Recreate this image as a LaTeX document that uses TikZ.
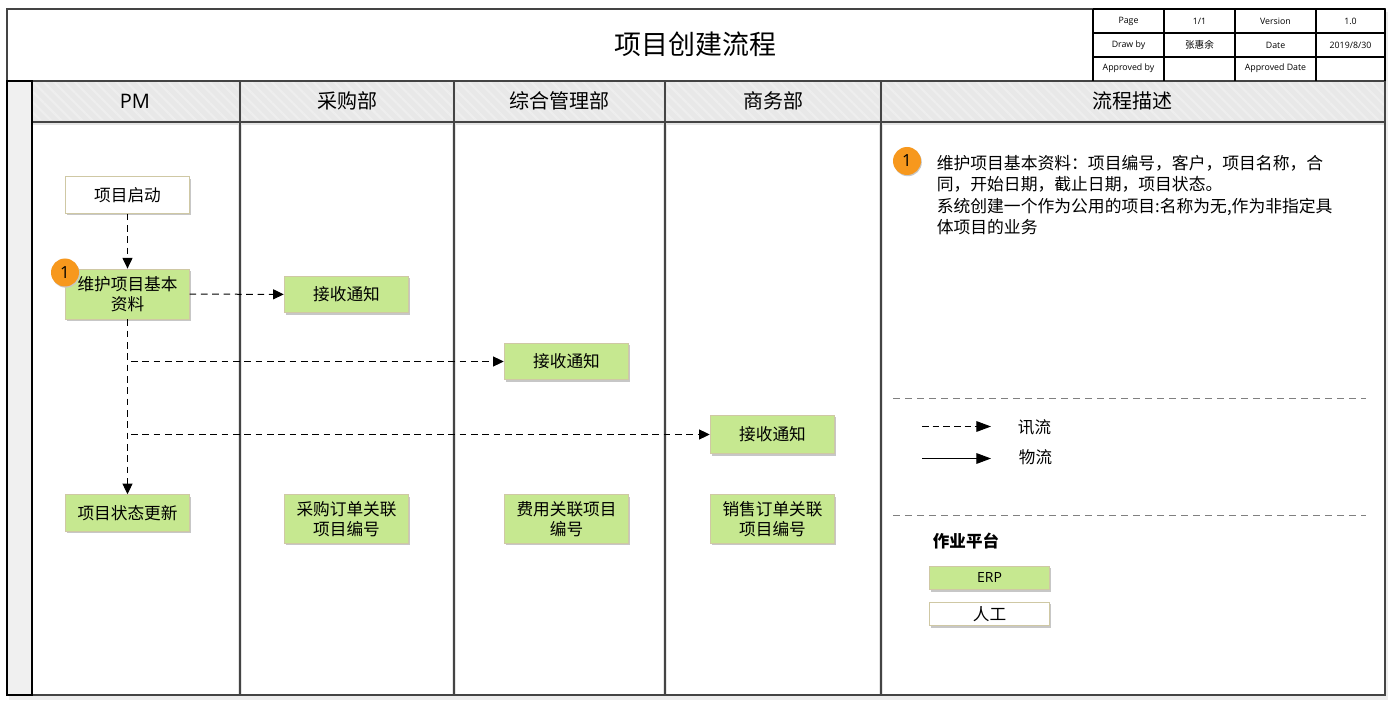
\documentclass[tikz,border=0pt]{standalone}
\usepackage{xcolor}
\usepackage{fontspec}
\setmainfont{Noto Sans CJK SC}
\newfontfamily\latinfont{Open Sans}
\usetikzlibrary{positioning, arrows.meta, shadows, patterns.meta}
\definecolor{erpgreen}{HTML}{C6E890}
\definecolor{boxedge}{HTML}{CFC8A4}
\definecolor{headgray}{HTML}{E8E8E8}
\definecolor{headstripe}{HTML}{EEEEEE}
\definecolor{bandgray}{HTML}{F0F0F0}
\definecolor{framegray}{HTML}{444444}
\definecolor{badgeorange}{HTML}{F7981D}
\tikzset{
  framelines/.style={draw=framegray, line width=1.4pt},
  framehalo/.style={draw=black!10, line width=3.6pt},
  thinlines/.style={draw=black, line width=1pt},
  flowbox/.style={draw=boxedge, line width=0.6pt, align=center, inner sep=0pt,
    font=\fontsize{12.5pt}{15.2pt}\selectfont,
    general shadow={fill=black!22, shadow xshift=1pt, shadow yshift=-1.5pt}},
  erpbox/.style={flowbox, fill=erpgreen},
  manualbox/.style={flowbox, fill=white},
  badge/.style={circle, fill=badgeorange, minimum size=21pt, inner sep=0pt,
    font=\latinfont\fontsize{12.5pt}{14pt}\selectfont,
    general shadow={fill=black!22, shadow xshift=0.6pt, shadow yshift=-0.9pt}},
  lanetitle/.style={font=\fontsize{15pt}{18pt}\selectfont},
  cell/.style={font=\latinfont\fontsize{6.6pt}{8pt}\selectfont},
  info/.style={dashed, dash pattern=on 5pt off 3.5pt, line width=0.75pt, -{Triangle[length=8pt,width=7.5pt]}},
  legendhead/.style={line width=0.75pt, -{Triangle[length=11pt,width=8pt]}}
}
\begin{document}
\begin{tikzpicture}[x=0.75pt,y=-0.75pt]
\useasboundingbox (0,0) rectangle (1389,702);

%frame shadow
\fill[black!7] (9,12) rectangle (1388,700);
\fill[white] (7,9) rectangle (1385,695);

%lane backgrounds
\path[preaction={fill=headgray}, pattern={Lines[angle=-45,distance=5.5pt,line width=1.6pt]}, pattern color=headstripe] (32,81) rectangle (1385,122);
\draw[framehalo] (32,122.5) -- (1385,122.5);
\draw[framehalo] (240,81) -- (240,695);
\draw[framehalo] (454,81) -- (454,695);
\draw[framehalo] (665,81) -- (665,695);
\draw[framehalo] (881,81) -- (881,695);
\draw[framelines] (32,122) -- (1385,122);
\draw[framelines] (240,81) -- (240,695);
\draw[framelines] (454,81) -- (454,695);
\draw[framelines] (665,81) -- (665,695);
\draw[framelines] (881,81) -- (881,695);
\draw[framelines] (7,9) rectangle (1385,695);
\draw[framelines] (7,81) -- (1385,81);
\draw[fill=bandgray, draw=black, line width=1.6pt] (7,81) rectangle (32,695);

%title and table
\node (title) at (695.5,44) {\fontsize{20.2pt}{24pt}\selectfont 项目创建流程};
\draw[thinlines] (1093,9) -- (1093,81);
\draw[thinlines] (1164,9) -- (1164,81);
\draw[thinlines] (1235,9) -- (1235,81);
\draw[thinlines] (1316,9) -- (1316,81);
\draw[thinlines] (1093,33) -- (1385,33);
\draw[thinlines] (1093,57) -- (1385,57);
\draw[thinlines] (1093,9) -- (1385,9);
\draw[thinlines] (1385,9) -- (1385,81);
\node[cell] (page) at (1128.5,21) {Page};
\node[cell] (pageval) at (1199.5,21) {1/1};
\node[cell] (version) at (1275.5,21) {Version};
\node[cell] (versionval) at (1350.5,21) {1.0};
\node[cell] (drawby) at (1128.5,45) {Draw by};
\node[cell, font=\fontsize{7.2pt}{8pt}\selectfont] (drawbyval) at (1199.5,45) {张惠余};
\node[cell] (date) at (1275.5,45) {Date};
\node[cell] (dateval) at (1350.5,45) {2019/8/30};
\node[cell] (approvedby) at (1128.5,68.5) {Approved by};
\node[cell] (approveddate) at (1275.5,68.5) {Approved Date};

%lane titles
\node[lanetitle, font=\latinfont\fontsize{15pt}{18pt}\selectfont] (pm) at (135,101) {PM};
\node[lanetitle] (purchase) at (347,101) {采购部};
\node[lanetitle] (admin) at (559,101) {综合管理部};
\node[lanetitle] (business) at (773,101) {商务部};
\node[lanetitle] (describe) at (1132,101) {流程描述};

%flow boxes
\node[manualbox, minimum width=92.5pt, minimum height=27.5pt] (start) at (127.5,195) {项目启动};
\node[erpbox, minimum width=92.5pt, minimum height=37.5pt] (maintain) at (127.5,294) {维护项目基本\\资料};
\node[erpbox, minimum width=93.5pt, minimum height=27.5pt] (recvbuy) at (346.5,294.5) {接收通知};
\node[erpbox, minimum width=93.5pt, minimum height=27.5pt] (recvadmin) at (566.5,361.5) {接收通知};
\node[erpbox, minimum width=93.5pt, minimum height=29pt] (recvsale) at (772.5,434.5) {接收通知};
\node[erpbox, minimum width=92.5pt, minimum height=27.5pt] (update) at (127.5,513) {项目状态更新};
\node[erpbox, minimum width=93.5pt, minimum height=36.5pt] (buyorder) at (346.5,519) {采购订单关联\\项目编号};
\node[erpbox, minimum width=93.5pt, minimum height=36.5pt] (expense) at (566.5,519) {费用关联项目\\编号};
\node[erpbox, minimum width=93.5pt, minimum height=36.5pt] (saleorder) at (772.5,519) {销售订单关联\\项目编号};
\node[badge] (badgeone) at (65,272.5) {1};

%connectors
\coordinate (branchadmin) at (131,361.5);
\coordinate (branchsale) at (131,434.5);
\draw[info] (start) -- (maintain);
\draw[info] (maintain) -- (recvbuy);
\draw[info] (maintain) -- (update);
\draw[info] (branchadmin) -- (recvadmin);
\draw[info] (branchsale) -- (recvsale);

%description
\node[badge] (badgetwo) at (907,161) {1};
\node[anchor=north west, inner sep=0pt, align=left, font=\fontsize{12.6pt}{16pt}\selectfont] (steptext) at (936.5,155)
  {维护项目基本资料：项目编号，客户，项目名称，合\\同，开始日期，截止日期，项目状态。\\系统创建一个作为公用的项目:名称为无,作为非指定具\\体项目的业务};

%legend
\coordinate (sepa) at (893,398.5);
\coordinate (sepb) at (1366,398.5);
\coordinate (sepc) at (893,515);
\coordinate (sepd) at (1366,515);
\draw[black!50, dashed, dash pattern=on 5.5pt off 3.5pt, line width=0.75pt] (sepa) -- (sepb);
\draw[black!50, dashed, dash pattern=on 5.5pt off 3.5pt, line width=0.75pt] (sepc) -- (sepd);
\coordinate (infostart) at (922,426.5);
\coordinate (goodsstart) at (922,458.5);
\node[font=\fontsize{12.4pt}{15pt}\selectfont] (infolabel) at (1034.5,427.5) {讯流};
\node[font=\fontsize{12.4pt}{15pt}\selectfont] (goodslabel) at (1035.5,457.5) {物流};
\coordinate (infoend) at (991,426.5);
\coordinate (goodsend) at (991,458.5);
\draw[legendhead, dashed, dash pattern=on 5pt off 3pt] (infostart) -- (infoend);
\draw[legendhead] (goodsstart) -- (goodsend);
\node[font=\fontsize{12.4pt}{15pt}\selectfont\bfseries] (platform) at (966,541.5) {作业平台};
\node[erpbox, minimum width=90.5pt, minimum height=17.5pt, font=\latinfont\fontsize{10.5pt}{12pt}\selectfont] (erp) at (989.5,578) {ERP};
\node[manualbox, minimum width=90.5pt, minimum height=17.5pt] (manual) at (989.5,614) {人工};
\end{tikzpicture}
\end{document}
